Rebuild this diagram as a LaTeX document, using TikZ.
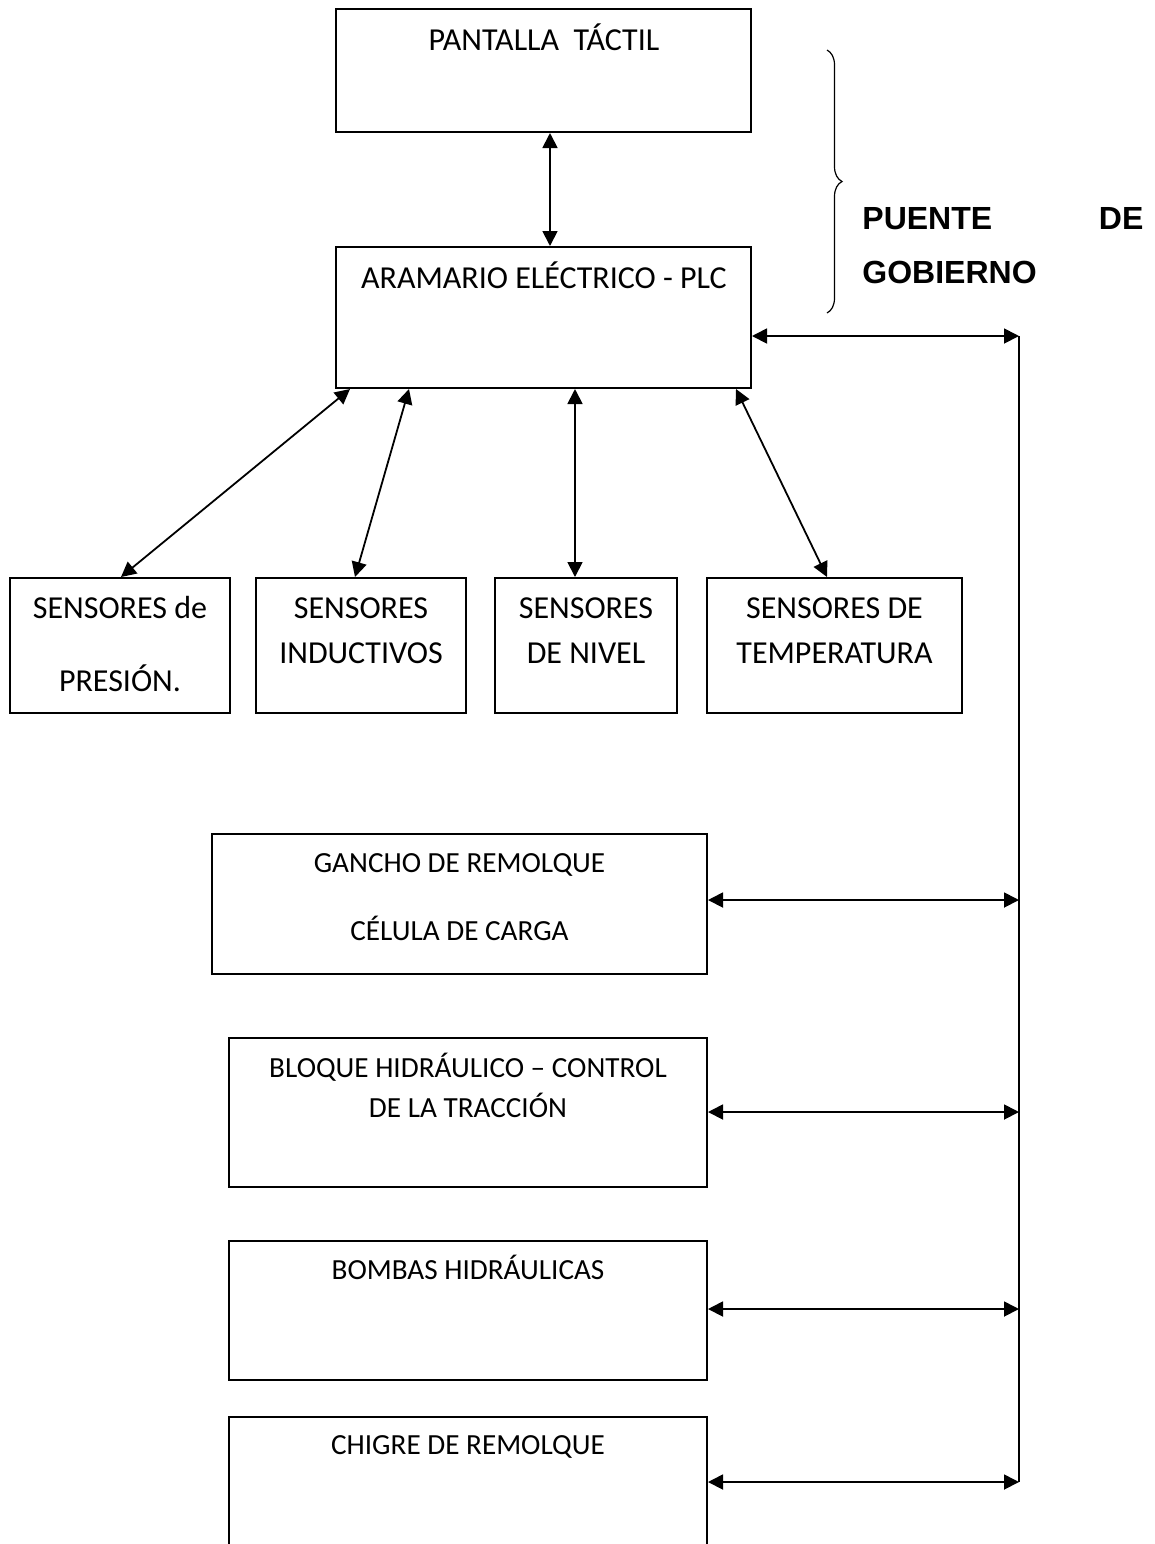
\documentclass[tikz,border=0pt]{standalone}
\usepackage{fontspec}
\setmainfont{Carlito}
\newfontfamily\arialfont{Liberation Sans}
\usetikzlibrary{arrows.meta,fit,decorations.pathreplacing}
\tikzset{
  boxnode/.style={draw, line width=1pt, inner sep=0pt, rectangle},
  txt/.style={inner sep=0pt, anchor=base, font=\fontsize{16}{19}\selectfont},
  txtsmall/.style={inner sep=0pt, anchor=base, font=\fontsize{14.6}{17}\selectfont},
  bold/.style={inner sep=0pt, anchor=base west, font=\arialfont\bfseries\fontsize{16}{19}\selectfont},
  biarrow/.style={{Triangle[length=7.5pt,width=7.5pt]}-{Triangle[length=7.5pt,width=7.5pt]}, line width=0.9pt},
  busline/.style={line width=0.9pt},
  bracestyle/.style={decorate, decoration={brace, amplitude=7.5pt}, line width=0.6pt},
}
\begin{document}
\begin{tikzpicture}[x=0.5pt,y=-0.5pt]
\clip (0,0) rectangle (1155,1544);
\fill[white] (0,0) rectangle (1155,1544);

% boxes
\node[boxnode, fit={(336,9) (751,132)}] (pant) {};
\node[boxnode, fit={(336,247) (751,388)}] (arm) {};
\node[boxnode, fit={(10,578) (230,713)}] (s1) {};
\node[boxnode, fit={(256,578) (466,713)}] (s2) {};
\node[boxnode, fit={(495,578) (677,713)}] (s3) {};
\node[boxnode, fit={(707,578) (962,713)}] (s4) {};
\node[boxnode, fit={(212,834) (707,974)}] (gan) {};
\node[boxnode, fit={(229,1038) (707,1187)}] (blo) {};
\node[boxnode, fit={(229,1241) (707,1380)}] (bom) {};
\node[boxnode, fit={(229,1417) (707,1570)}] (chi) {};

% texts
\node[txt] (tpant) at (544,50) {PANTALLA\ \ TÁCTIL};
\node[txt] (tarm) at (544,288) {ARAMARIO ELÉCTRICO - PLC};
\node[txt] (ts1a) at (120,618) {SENSORES de};
\node[txt] (ts1b) at (120,691) {PRESIÓN.};
\node[txt] (ts2a) at (361,618) {SENSORES};
\node[txt] (ts2b) at (361,663) {INDUCTIVOS};
\node[txt] (ts3a) at (586,618) {SENSORES};
\node[txt] (ts3b) at (586,663) {DE NIVEL};
\node[txt] (ts4a) at (834.5,618) {SENSORES DE};
\node[txt] (ts4b) at (834.5,663) {TEMPERATURA};
\node[txtsmall] (tgana) at (459.5,872) {GANCHO DE REMOLQUE};
\node[txtsmall] (tganb) at (459.5,940) {CÉLULA DE CARGA};
\node[txtsmall] (tbloa) at (468,1077) {BLOQUE HIDRÁULICO – CONTROL};
\node[txtsmall] (tblob) at (468,1117) {DE LA TRACCIÓN};
\node[txtsmall] (tbom) at (468,1279) {BOMBAS HIDRÁULICAS};
\node[txtsmall] (tchi) at (468,1454) {CHIGRE DE REMOLQUE};

% bold label with brace
\node[bold, text width=140.5pt] (puente) at (862,229) {PUENTE\hfill DE};
\node[bold] (gobierno) at (862,283) {GOBIERNO};
\coordinate (brtop) at (827,50);
\coordinate (brbot) at (827,313);
\draw[bracestyle] (brtop) -- (brbot);

% x positions of connectors
\coordinate (xv) at (550,0);
\coordinate (a1t) at (350,0);
\coordinate (a1b) at (121,0);
\coordinate (a2t) at (409,0);
\coordinate (a2b) at (355,0);
\coordinate (a3) at (575,0);
\coordinate (a4t) at (736,0);
\coordinate (a4b) at (827,0);

\draw[biarrow] (pant.south -| xv) -- (arm.north -| xv);
\draw[biarrow] (arm.south -| a1t) -- (s1.north -| a1b);
\draw[biarrow] (arm.south -| a2t) -- (s2.north -| a2b);
\draw[biarrow] (arm.south -| a3) -- (s3.north -| a3);
\draw[biarrow] (arm.south -| a4t) -- (s4.north -| a4b);

% bus on the right
\coordinate (bt) at (1019,336);
\coordinate (bg) at (1019,900);
\coordinate (bbl) at (1019,1112);
\coordinate (bbo) at (1019,1309);
\coordinate (bb) at (1019,1482);
\draw[busline] (bt) -- (bb);
\draw[biarrow] (arm.east |- bt) -- (bt);
\draw[biarrow] (gan.east |- bg) -- (bg);
\draw[biarrow] (blo.east |- bbl) -- (bbl);
\draw[biarrow] (bom.east |- bbo) -- (bbo);
\draw[biarrow] (chi.east |- bb) -- (bb);
\end{tikzpicture}
\end{document}
